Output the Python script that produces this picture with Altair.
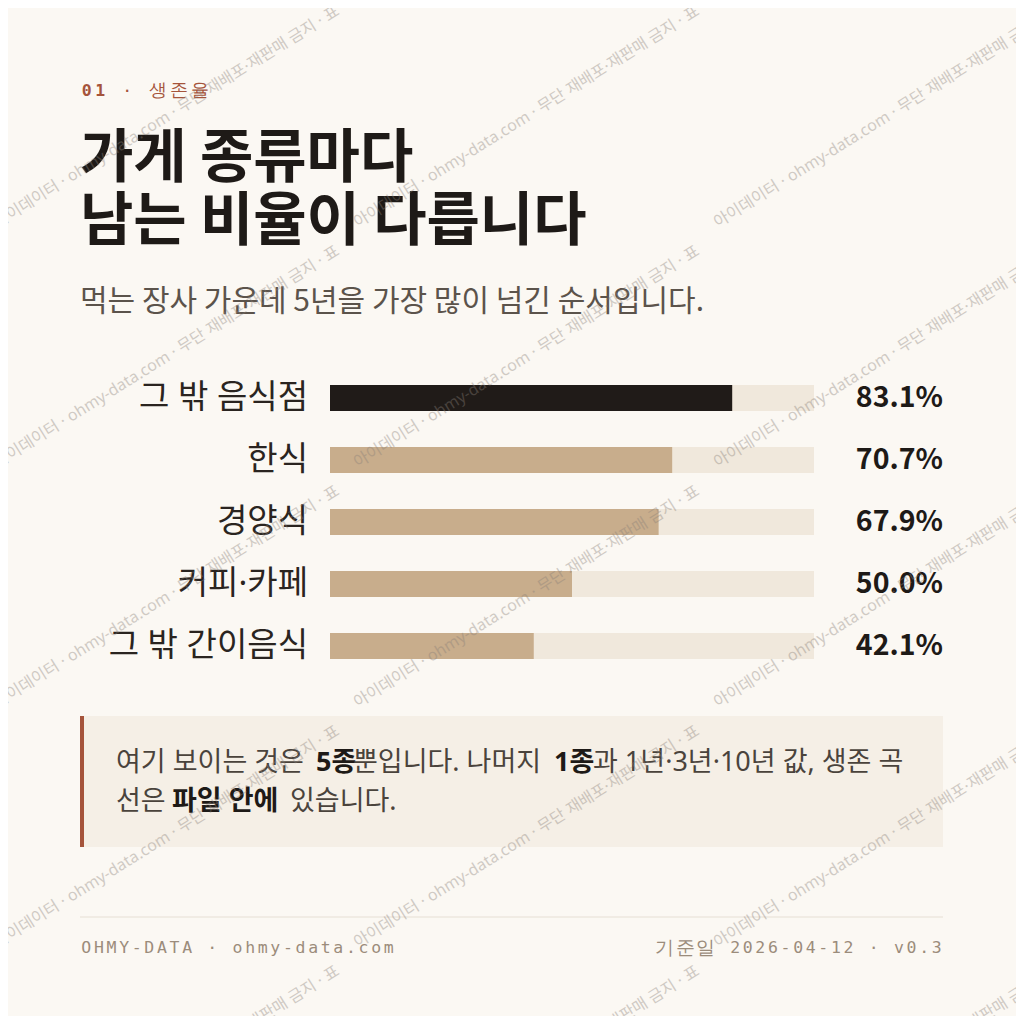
import pandas as pd
import altair as alt

# data
categories = ["그 밖 음식점", "한식", "경양식", "커피·카페", "그 밖 간이음식"]
rates = [83.1, 70.7, 67.9, 50.0, 42.1]

SANS = "Noto Sans CJK KR"
MIX = "Noto Sans, Noto Sans CJK KR"  # narrow latin dot, hangul from CJK
MONO = "DejaVu Sans Mono"
BG = "#FBF8F3"
OFF = 8  # page margin, chart coords = picture coords - 8
W = 1008

df = pd.DataFrame({"category": categories, "rate": rates})
dummy = pd.DataFrame({"a": [0]})


def label(txt, x, y, size, color, weight="normal", align="left", font=SANS):
    return alt.Chart(dummy).mark_text(
        text=txt, align=align, baseline="middle", fontSize=size, font=font,
        fontWeight=weight, color=color
    ).encode(x=alt.value(x - OFF), y=alt.value(y - OFF))


def spaced(txt, x, y, size, color, adv, cjk_adv, weight="normal", right=False, cjk_size=18):
    # letter-spaced mono text, one glyph per mark (vega-lite has no letterSpacing)
    widths = [cjk_adv if ord(ch) > 0x1100 else adv for ch in txt]
    if right:
        x = x - sum(widths)
    out = []
    for ch, w in zip(txt, widths):
        if ch != " ":
            s = cjk_size if ord(ch) > 0x1100 else size
            out.append(label(ch, x + w / 2, y, s, color, weight, "center", MONO))
        x += w
    return out


def box(x1, x2, y1, y2, color):
    return alt.Chart(dummy).mark_rect(color=color).encode(
        x=alt.value(x1 - OFF), x2=alt.value(x2 - OFF),
        y=alt.value(y1 - OFF), y2=alt.value(y2 - OFF))


# scales for the bars
xs = alt.Scale(domain=[0, 100], range=[330 - OFF, 814 - OFF])
ys = alt.Scale(range=[367 - OFF, 677 - OFF], paddingInner=0.58, paddingOuter=0.29)
y_enc = alt.Y("category:N", sort=categories, scale=ys, axis=None)

base = alt.Chart(df)

track = base.mark_bar(color="#F0E8DC").encode(
    x=alt.X(datum=100, type="quantitative", scale=xs, axis=None),
    y=y_enc)

bars = base.transform_window(
    rank="rank()", sort=[alt.SortField("rate", order="descending")]
).mark_bar().encode(
    x=alt.X("rate:Q", scale=xs, axis=None),
    y=y_enc,
    color=alt.condition("datum.rank == 1", alt.value("#201B18"), alt.value("#C8AD8C")))

cat_text = base.mark_text(align="right", baseline="middle", fontSize=33, font=MIX,
                          color="#2A2420").encode(
    x=alt.value(308 - OFF), y=y_enc, text="category:N")

val_text = base.transform_calculate(
    lbl="format(datum.rate, '.1f') + '%'"
).mark_text(align="right", baseline="middle", fontSize=28.5, font=SANS,
            fontWeight="bold", color="#1E1A17").encode(
    x=alt.value(943 - OFF), y=y_enc, text="lbl:N")

# header
header = spaced("01", 80, 91, 16.5, "#A5543B", 13.5, 21, "bold") + \
    spaced(" · 생존율", 107, 91, 16.5, "#A5543B", 13.5, 21) + [
    label("가게 종류마다", 80, 160, 58, "#1E1A17", "bold"),
    label("남는 비율이 다릅니다", 80, 223, 58, "#1E1A17", "bold"),
    label("먹는 장사 가운데 5년을 가장 많이 넘긴 순서입니다.", 80, 302, 30, "#5B534B"),
]

# callout
note_c = "#4A433C"
note_b = "#1E1A17"
fs = 27
callout = [
    box(80, 943, 716, 847, "#F5EFE6"),
    box(80, 84, 716, 847, "#A5543B"),
    label("여기 보이는 것은", 116, 763, fs, note_c, font=MIX),
    label("5종", 316, 763, fs, note_b, "bold", font=MIX),
    label("뿐입니다. 나머지", 353, 763, fs, note_c, font=MIX),
    label("1종", 554, 763, fs, note_b, "bold", font=MIX),
    label("과 1년·3년·10년 값, 생존 곡", 593, 763, fs, note_c, font=MIX),
    label("선은", 116, 802, fs, note_c, font=MIX),
    label("파일 안에", 172, 802, fs, note_b, "bold", font=MIX),
    label("있습니다.", 290, 802, fs, note_c, font=MIX),
]

# footer
footer = [
    alt.Chart(dummy).mark_rule(color="#E6DFD4", strokeWidth=1).encode(
        x=alt.value(80 - OFF), x2=alt.value(943 - OFF), y=alt.value(917 - OFF)),
] + spaced("OHMY-DATA · ohmy-data.com", 80, 948, 16.5, "#9B8C7B", 12.6, 20) + \
    spaced("기준일 2026-04-12 · v0.3", 943, 948, 16.5, "#9B8C7B", 12.6, 20.5, right=True, cjk_size=19)

# watermark tiles
WM = "아이데이터 · ohmy-data.com · 무단 재배포·재판매 금지 · 표"
marks = []
for tx in (0, 360, 720):
    for ty in (0, 240, 480, 720, 960):
        marks.append(alt.Chart(dummy).mark_text(
            text=WM, align="left", baseline="alphabetic", angle=328, fontSize=16,
            font=MIX, color="#8A8078", opacity=0.38
        ).encode(x=alt.value(tx - 2 - OFF), y=alt.value(ty + 228 - OFF)))

chart = alt.layer(
    *callout, track, bars, cat_text, val_text, *header, *footer, *marks
).properties(
    width=W, height=W, background=BG, padding=0,
    autosize=alt.AutoSizeParams(type="none")
).configure_view(stroke=None)

chart.save("out.html", embed_options={"renderer": "svg", "actions": False})
